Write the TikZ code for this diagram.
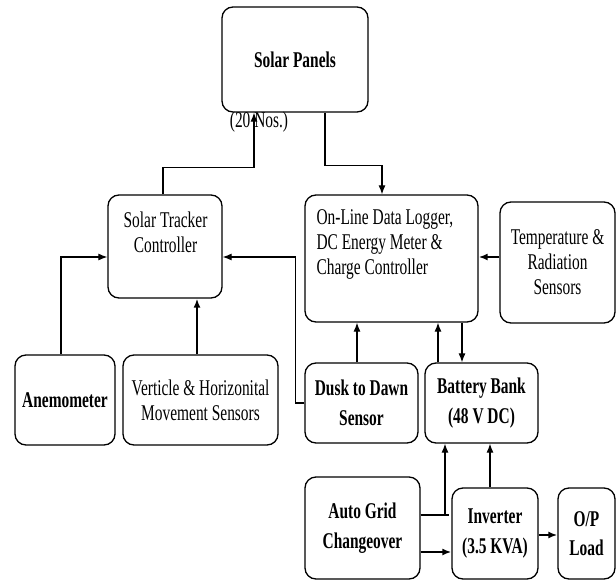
\documentclass[tikz,border=0pt]{standalone}
\usepackage{fontspec}
\setmainfont{Liberation Serif}[FakeStretch=0.685]
\usetikzlibrary{arrows.meta}

\tikzset{
  blok/.style={draw, line width=1.3pt, rounded corners=11pt, align=center, inner sep=2pt},
  txt/.style={font=\fontsize{22.5}{25}\selectfont},
  zhir/.style={font=\fontsize{22.5}{29.5}\selectfont\bfseries},
  tolst/.style={line width=2.2pt}
}

\begin{document}
\begin{tikzpicture}[x=1pt, y=-1pt, >={Latex[length=9pt,width=7pt]}, line width=1.1pt]
      % Рамка рисунка
      \useasboundingbox (0,0) rectangle (616,581);

      % Солнечные панели
      \node[blok, zhir, minimum width=146pt, minimum height=105pt] (panels) at (295,59.5) {Solar Panels};
      \node[txt, inner sep=0pt] (nos) at (259,122) {(20 Nos.)};

      % Контроллер трекера
      \node[blok, minimum width=114pt, minimum height=103pt] (tracker) at (165,246.5) {};
      \node[txt, align=center, anchor=north, inner sep=0pt] (trackertxt) at (165.5,211) {Solar Tracker\\Controller};

      % Логгер данных
      \node[blok, minimum width=173pt, minimum height=127pt] (logger) at (391.5,258.5) {};
      \node[txt, align=left, anchor=north west, inner sep=0pt] (loggertxt) at (316,209) {On-Line Data Logger,\\DC Energy Meter \&\\Charge Controller};

      % Датчики температуры
      \node[blok, txt, minimum width=115pt, minimum height=121pt] (temp) at (557.5,262.5) {Temperature \&\\Radiation\\Sensors};

      % Нижний ряд датчиков
      \node[blok, zhir, minimum width=100pt, minimum height=90pt] (anemo) at (65,400) {Anemometer};
      \node[blok, txt, minimum width=155pt, minimum height=90pt] (vert) at (200.5,400) {Verticle \& Horizonital\\Movement Sensors};
      \node[blok, zhir, minimum width=113pt, minimum height=80pt] (dusk) at (361.5,403) {Dusk to Dawn\\Sensor};
      \node[blok, zhir, minimum width=113pt, minimum height=80pt] (battery) at (481.5,403) {Battery Bank\\(48 V DC)};

      % Сеть, инвертор, нагрузка
      \node[blok, zhir, minimum width=115pt, minimum height=102pt] (autogrid) at (362.5,528) {Auto Grid\\Changeover};
      \node[blok, zhir, minimum width=86pt, minimum height=91pt] (inverter) at (495,533.5) {Inverter\\(3.5 KVA)};
      \node[blok, zhir, minimum width=57pt, minimum height=91pt] (load) at (586.5,533.5) {O/P\\Load};

      % Трекер -> панели, панели -> логгер
      \draw[->] ([xshift=-2pt]tracker.north) -- ++(0,-27) -| ([xshift=-41pt]panels.south);
      \draw[->] ([xshift=30pt]panels.south) -- ++(0,53) -| ([xshift=-9.5pt]logger.north);

      % Входы контроллера трекера
      \draw[->] ([xshift=-4pt]anemo.north) |- ([yshift=-10.5pt]tracker.west);
      \draw[->, tolst] ([xshift=-3.5pt]vert.north) -- ([xshift=-3.5pt]vert.north |- tracker.south);
      \draw[->] (dusk.west) -- ++(-9,0) |- ([yshift=-10.5pt]tracker.east);

      % Входы логгера
      \draw[->, tolst] ([yshift=5.5pt]temp.west) -- ([yshift=5.5pt]temp.west -| logger.east);
      \draw[->] ([xshift=-4.5pt]dusk.north) -- ([xshift=-4.5pt]dusk.north |- logger.south);
      \draw[->] ([xshift=-43.5pt]battery.north) -- ([xshift=-43.5pt]battery.north |- logger.south);
      \draw[->] ([xshift=-19.5pt]battery.north |- logger.south) -- ([xshift=-19.5pt]battery.north);

      % Зарядка батареи и выход
      \draw[->] ([yshift=13pt]autogrid.east) -| ([xshift=-36.5pt]battery.south);
      \draw ([yshift=13pt]autogrid.east) -- ++(28,0);
      \draw[->, tolst] ([yshift=-24pt]autogrid.east) -- ([yshift=-24pt]autogrid.east -| inverter.west);
      \draw[->] ([xshift=-5pt]inverter.north) -- ([xshift=-5pt]inverter.north |- battery.south);
      \draw[->, tolst] ([yshift=-1.5pt]inverter.east) -- ([yshift=-1.5pt]inverter.east -| load.west);
\end{tikzpicture}
\end{document}
